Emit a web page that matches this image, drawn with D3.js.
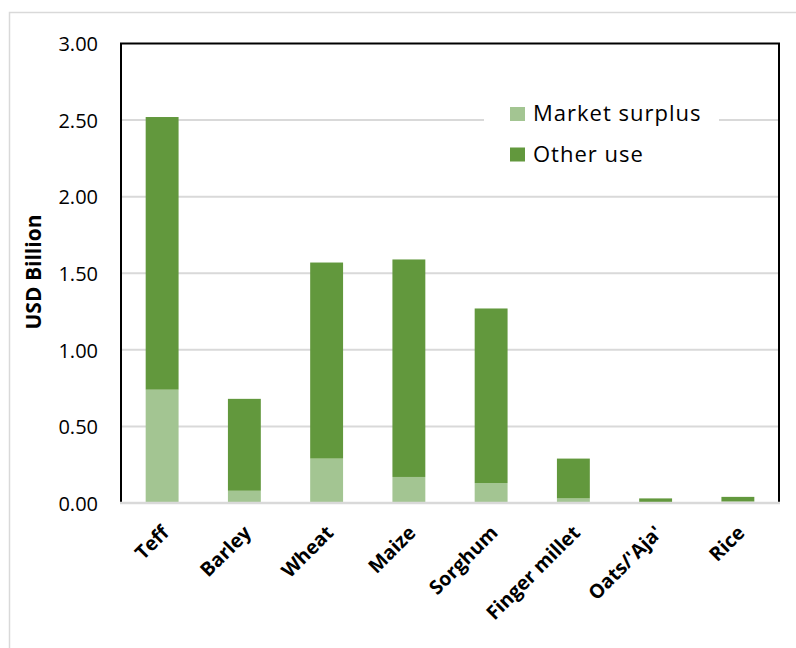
<!DOCTYPE html>
<html>
<head>
<meta charset="utf-8">
<script src="https://cdn.jsdelivr.net/npm/d3@7"></script>
<style>
  html, body { margin: 0; padding: 0; background: #fff; }
  svg { display: block; }
  text { font-family: "Open Sans", sans-serif; fill: #000; }
</style>
</head>
<body>
<svg id="chart" width="796" height="648"></svg>
<script>
const categories = ["Teff", "Barley", "Wheat", "Maize", "Sorghum", "Finger millet", "Oats/'Aja'", "Rice"];
const marketSurplus = [0.74, 0.08, 0.29, 0.17, 0.13, 0.03, 0.00, 0.01];
const otherUse = [1.78, 0.60, 1.28, 1.42, 1.14, 0.26, 0.03, 0.03];
const seriesNames = ["Market surplus", "Other use"];
const seriesColors = ["#A3C592", "#62983D"];
const yTicks = [0, 0.5, 1.0, 1.5, 2.0, 2.5, 3.0];
const yTitle = "USD Billion";

const svg = d3.select("#chart");
const W = 796, H = 648;
const plot = { left: 121, right: 779, top: 43.5, bottom: 503 };

// outer chart border
svg.append("rect")
  .attr("x", 9.5).attr("y", 12.5)
  .attr("width", W + 20).attr("height", H + 20)
  .attr("fill", "#fff").attr("stroke", "#D9D9D9").attr("stroke-width", 1.5);

const rows = categories.map((c, i) => ({ cat: c, ms: marketSurplus[i], ou: otherUse[i] }));
const stack = d3.stack().keys(["ms", "ou"]);
const layers = stack(rows);

const x = d3.scaleBand().domain(categories)
  .range([plot.left, plot.right]).paddingInner(0.6).paddingOuter(0.3);
const y = d3.scaleLinear().domain([0, 3]).range([plot.bottom, plot.top]);

// gridlines
svg.append("g").selectAll("line")
  .data(yTicks.filter(t => t > 0 && t < 3))
  .join("line")
  .attr("x1", plot.left).attr("x2", plot.right)
  .attr("y1", d => y(d)).attr("y2", d => y(d))
  .attr("stroke", "#D9D9D9").attr("stroke-width", 2);

// bars
svg.append("g").selectAll("g")
  .data(layers)
  .join("g")
  .attr("fill", (d, i) => seriesColors[i])
  .selectAll("rect")
  .data(d => d)
  .join("rect")
  .attr("x", d => x(d.data.cat))
  .attr("width", x.bandwidth())
  .attr("y", d => y(d[1]))
  .attr("height", d => Math.max(0, y(d[0]) - y(d[1])));

// frame (top, left, right)
svg.append("path")
  .attr("d", `M${plot.left},${plot.bottom} V${plot.top} H${plot.right} V${plot.bottom}`)
  .attr("fill", "none").attr("stroke", "#000").attr("stroke-width", 2);

// bottom axis line
svg.append("line")
  .attr("x1", plot.left - 1).attr("x2", plot.right + 1)
  .attr("y1", plot.bottom).attr("y2", plot.bottom)
  .attr("stroke", "#D9D9D9").attr("stroke-width", 2.5);

// y axis labels
const yAxis = d3.axisLeft(y).tickValues(yTicks).tickFormat(d3.format(".2f")).tickSize(0).tickPadding(0);
const yg = svg.append("g").attr("transform", `translate(98,0)`).call(yAxis);
yg.select(".domain").remove();
yg.selectAll("text")
  .attr("font-family", "'Open Sans', sans-serif")
  .attr("font-size", 20)
  .attr("fill", "#000")
  .attr("dy", "0.36em");

// y title
svg.append("text")
  .attr("transform", `translate(41,272) rotate(-90)`)
  .attr("text-anchor", "middle")
  .attr("font-size", 21)
  .attr("font-weight", "bold")
  .text(yTitle);

// x labels
svg.append("g").selectAll("text")
  .data(categories)
  .join("text")
  .attr("transform", d => `translate(${x(d) + x.bandwidth() / 2 + 8},${534}) rotate(-45)`)
  .attr("text-anchor", "end")
  .attr("font-size", 19.5)
  .attr("font-weight", "bold")
  .text(d => d);

// legend
const lg = svg.append("g");
lg.append("rect")
  .attr("x", 484).attr("y", 92).attr("width", 235).attr("height", 82)
  .attr("fill", "#fff");
const legendY = [107, 147.5];
seriesNames.forEach((name, i) => {
  lg.append("rect")
    .attr("x", 510).attr("y", legendY[i])
    .attr("width", 15).attr("height", 14)
    .attr("fill", seriesColors[i]);
  lg.append("text")
    .attr("x", 533).attr("y", legendY[i] + 14)
    .attr("font-size", 22)
    .attr("letter-spacing", 1)
    .text(name);
});
</script>
</body>
</html>
